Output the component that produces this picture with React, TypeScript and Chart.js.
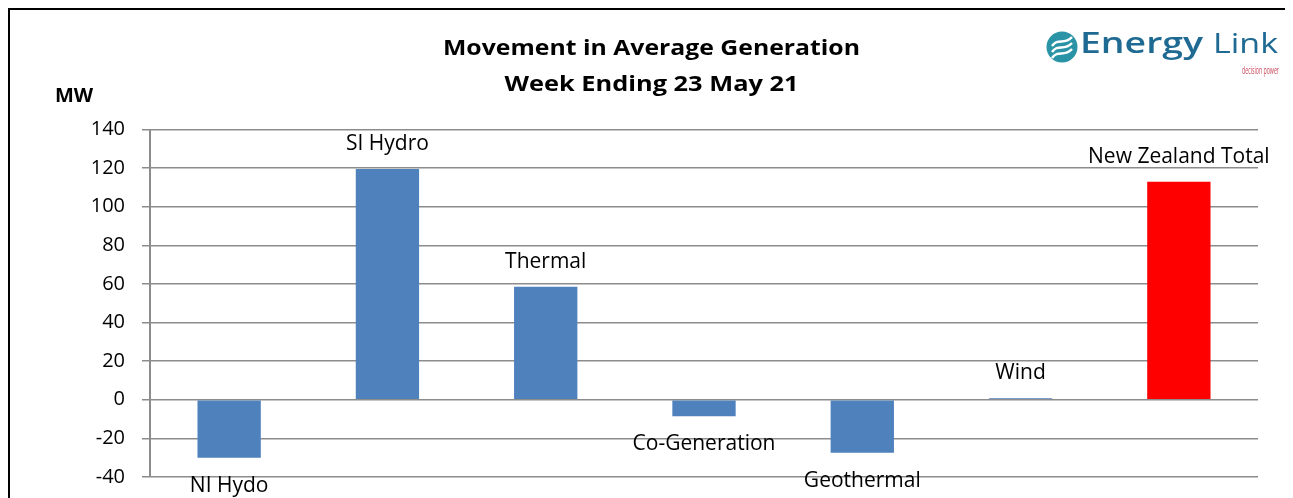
import React, { useEffect, useRef } from "react";
import { Chart, registerables } from "chart.js";

Chart.register(...registerables);

const categories = ["NI Hydo", "SI Hydro", "Thermal", "Co-Generation", "Geothermal", "Wind", "New Zealand Total"];
const movementMW = [-30, 119.5, 58.5, -8.5, -27.5, 0.8, 113];
const barColors = ["#4f81bd", "#4f81bd", "#4f81bd", "#4f81bd", "#4f81bd", "#4f81bd", "#ff0000"];
const yTicks = [-40, -20, 0, 20, 40, 60, 80, 100, 120, 140];
const titleLines = ["Movement in Average Generation", "Week Ending 23 May 21"];
const yUnit = "MW";

const FONT = "'Open Sans', Lato, sans-serif";

function fitText(ctx: CanvasRenderingContext2D, text: string, x: number, y: number, width: number) {
  const m = ctx.measureText(text).width;
  ctx.save();
  ctx.translate(x, y);
  ctx.scale(width / m, 1);
  ctx.fillText(text, 0, 0);
  ctx.restore();
}

const overlayPlugin = {
  id: "overlay",
  afterDatasetsDraw(chart: any) {
    const ctx = chart.ctx;
    const meta = chart.getDatasetMeta(0);
    ctx.save();
    ctx.fillStyle = "#000";
    ctx.font = `21px ${FONT}`;
    ctx.textAlign = "center";
    ctx.textBaseline = "middle";
    meta.data.forEach((bar: any, i: number) => {
      const v = movementMW[i];
      const y = v >= 0 ? bar.y - 25 : bar.y + 28;
      ctx.fillText(categories[i], bar.x, y);
    });
    ctx.restore();
  },
  afterDraw(chart: any) {
    const ctx = chart.ctx;
    ctx.save();
    ctx.fillStyle = "#000";
    ctx.font = `bold 22px ${FONT}`;
    ctx.textAlign = "center";
    ctx.textBaseline = "middle";
    const cx = 641.5;
    fitText(ctx, titleLines[0], cx, 39, 417);
    fitText(ctx, titleLines[1], cx, 75, 294);
    ctx.font = `bold 20px ${FONT}`;
    ctx.textAlign = "left";
    ctx.fillText(yUnit, 45, 86);
    const lx = 1052, ly = 37, r = 15.5;
    ctx.fillStyle = "#2a93a6";
    ctx.beginPath();
    ctx.arc(lx, ly, r, 0, Math.PI * 2);
    ctx.fill();
    ctx.strokeStyle = "#fff";
    ctx.lineWidth = 2.5;
    for (let k = -1; k <= 1; k++) {
      ctx.beginPath();
      ctx.moveTo(lx - 10, ly + 5 + k * 6);
      ctx.bezierCurveTo(lx - 4, ly - 4 + k * 6, lx + 2, ly + 5 + k * 6, lx + 10, ly - 4 + k * 6);
      ctx.stroke();
    }
    ctx.fillStyle = "#1e6a92";
    ctx.textBaseline = "alphabetic";
    ctx.textAlign = "left";
    ctx.font = `600 28px ${FONT}`;
    fitText(ctx, "Energy", 1070, 43, 123);
    ctx.font = `28px ${FONT}`;
    fitText(ctx, "Link", 1203, 43, 65);
    ctx.fillStyle = "#c9475a";
    ctx.font = `11px ${FONT}`;
    ctx.textBaseline = "middle";
    fitText(ctx, "decision power", 1232, 61, 37);
    ctx.restore();
  },
};

export default function App() {
  const ref = useRef<HTMLCanvasElement>(null);
  useEffect(() => {
    document.documentElement.style.overflow = "hidden";
    document.body.style.overflow = "hidden";
    if (!ref.current) return;
    const chart = new Chart(ref.current, {
      type: "bar",
      data: {
        labels: categories,
        datasets: [
          {
            data: movementMW,
            backgroundColor: barColors,
            borderWidth: 0,
            categoryPercentage: 1,
            barPercentage: 0.4,
          },
        ],
      },
      options: {
        animation: false,
        responsive: false,
        maintainAspectRatio: false,
        layout: { padding: { top: 119.5, bottom: 0, right: 52, left: 0 } },
        plugins: { legend: { display: false }, tooltip: { enabled: false }, title: { display: false } },
        scales: {
          x: { display: false },
          y: {
            min: -40,
            max: 140,
            afterFit(scale: any) {
              scale.width = 140;
            },
            afterBuildTicks(scale: any) {
              scale.ticks = yTicks.map((v) => ({ value: v }));
            },
            ticks: {
              color: "#000",
              font: { family: FONT, size: 20 },
              padding: 17,
            },
            grid: { color: "#8c8c8c", lineWidth: 1.5, tickLength: 8, drawTicks: true },
            border: { color: "#8c8c8c", width: 2 },
          },
        },
      },
      plugins: [overlayPlugin],
    });
    return () => chart.destroy();
  }, []);
  return (
    <div
      style={{
        width: 1300,
        height: 496,
        borderTop: "2px solid #000",
        borderLeft: "2px solid #000",
        overflow: "hidden",
      }}
    >
      <canvas ref={ref} width={1300} height={496} style={{ display: "block" }} />
    </div>
  );
}
